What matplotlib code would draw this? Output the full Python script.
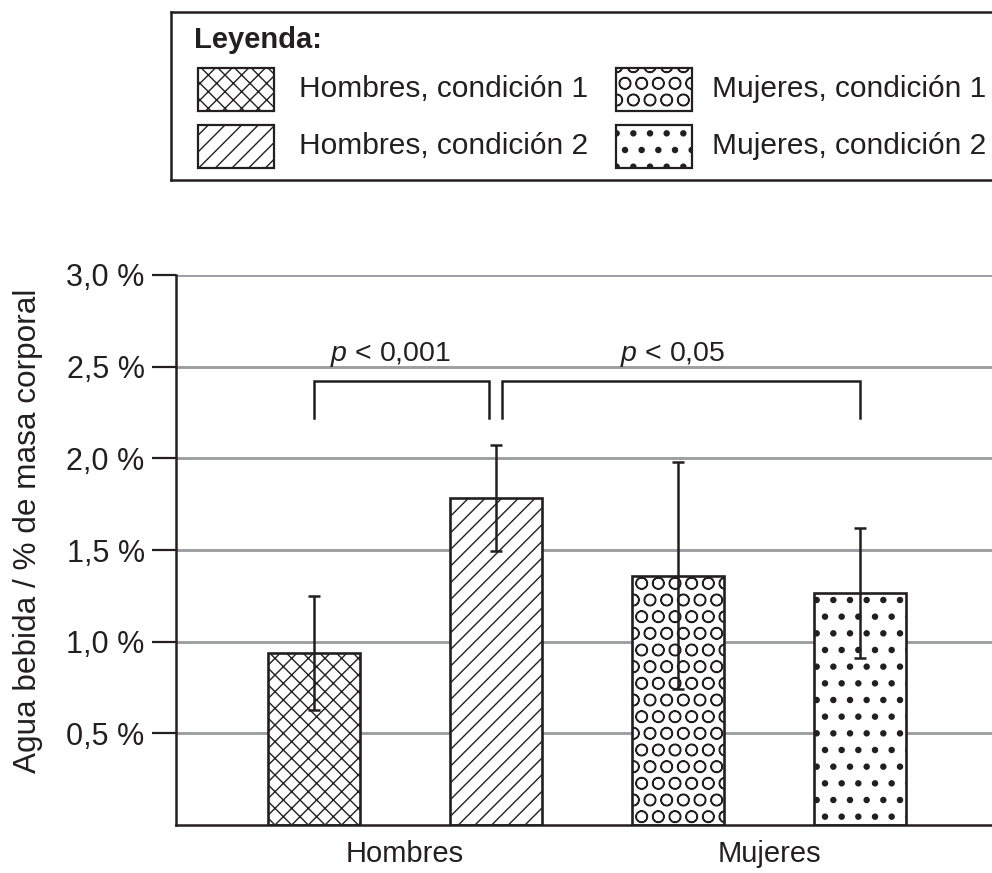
import numpy as np
import matplotlib.pyplot as plt
from matplotlib.patches import Rectangle

plt.rcParams['font.family'] = ['Liberation Sans', 'DejaVu Sans']
plt.rcParams['mathtext.fontset'] = 'custom'
plt.rcParams['mathtext.it'] = 'Liberation Sans:italic'
plt.rcParams['mathtext.rm'] = 'Liberation Sans'

# datos
grupos = ['Hombres', 'Mujeres']
series = ['Hombres, condición 1', 'Hombres, condición 2',
          'Mujeres, condición 1', 'Mujeres, condición 2']
agua = [0.94, 1.785, 1.36, 1.265]
error = [0.31, 0.29, 0.62, 0.355]
yticks = [0.5, 1.0, 1.5, 2.0, 2.5, 3.0]
comparaciones = [(0, 1), (1, 3)]
p_textos = ['$p$ < 0,001', '$p$ < 0,05']

tramas = ['xx', '//', 'O', '.']
trama_lw = [1.0, 1.0, 1.0, 2.2]
negro = '#231f20'
gris = '#9c9ea1'
fs = 21

fig = plt.figure(figsize=(9.92, 8.73), dpi=100)
ax = fig.add_axes([176/992, 48/873, 1 - 176/992, 550/873])

x = np.arange(len(agua))
barras = ax.bar(x, agua, width=0.505, color='white', edgecolor=negro,
                linewidth=1.9, zorder=2)
for b, h, lw in zip(barras, tramas, trama_lw):
    b.set_hatch(h)
    if hasattr(b, 'set_hatch_linewidth'):
        b.set_hatch_linewidth(lw)
ax.errorbar(x, agua, yerr=error, fmt='none', ecolor=negro, elinewidth=1.8,
            capsize=4.5, capthick=1.8, zorder=3)

# corchetes de significancia
y_alto, y_bajo = 2.42, 2.22
desp = [(0, -0.035), (0.035, 0)]
xt = [0.42, 1.97]
for (i, j), (di, dj), t, tx in zip(comparaciones, desp, p_textos, xt):
    xi, xj = x[i] + di, x[j] + dj
    ax.plot([xi, xi, xj, xj], [y_bajo, y_alto, y_alto, y_bajo], color=negro,
            lw=1.8, solid_joinstyle='miter', zorder=3)
    ax.text(tx, 2.53, t, ha='center', va='baseline', fontsize=20.5, color=negro)

ax.set_xlim(-0.755, 3.724)
ax.set_ylim(0, 3.0)
ax.set_yticks(yticks)
ax.set_yticklabels([f'{v:.1f}'.replace('.', ',') + ' %' for v in yticks])
ax.set_xticks([0.5, 2.5])
ax.set_xticklabels(grupos)
ax.tick_params(axis='y', length=17, width=1.6, color=negro, pad=5.5,
               labelsize=22, labelcolor=negro)
ax.tick_params(axis='x', length=0, pad=11, labelsize=fs, labelcolor=negro)
ax.grid(axis='y', color=gris, linewidth=2.1, zorder=0)
ax.set_axisbelow(True)
for s in ['top', 'right']:
    ax.spines[s].set_visible(False)
for s in ['left', 'bottom']:
    ax.spines[s].set_linewidth(1.8)
    ax.spines[s].set_color(negro)
    ax.spines[s].set_zorder(4)

fig.text(28/992, 1 - 531/873, 'Agua bebida / % de masa corporal', rotation=90,
         ha='center', va='center', fontsize=22.7, color=negro)

# leyenda
lax = fig.add_axes([171/992, 1 - 180/873, (1150 - 171)/992, 168/873])
lax.set_xlim(171, 1150)
lax.set_ylim(180, 12)
lax.set_xticks([])
lax.set_yticks([])
for s in lax.spines.values():
    s.set_linewidth(1.8)
    s.set_color(negro)
lax.text(194, 40, 'Leyenda:', fontsize=fs, fontweight='bold', va='center',
         color=negro)
caja_x = [198, 198, 616, 616]
caja_y = [68, 125, 68, 125]
texto_x = [299, 299, 712, 712]
for nombre, h, lw, cx, cy, tx in zip(series, tramas, trama_lw, caja_x, caja_y, texto_x):
    r = Rectangle((cx, cy), 76, 43, facecolor='white', edgecolor=negro,
                  linewidth=1.6, hatch=h)
    if hasattr(r, 'set_hatch_linewidth'):
        r.set_hatch_linewidth(lw)
    lax.add_patch(r)
    lax.text(tx, cy + 21, nombre, fontsize=21.5, va='center', color=negro)

fig.savefig('out.png', dpi=100)
